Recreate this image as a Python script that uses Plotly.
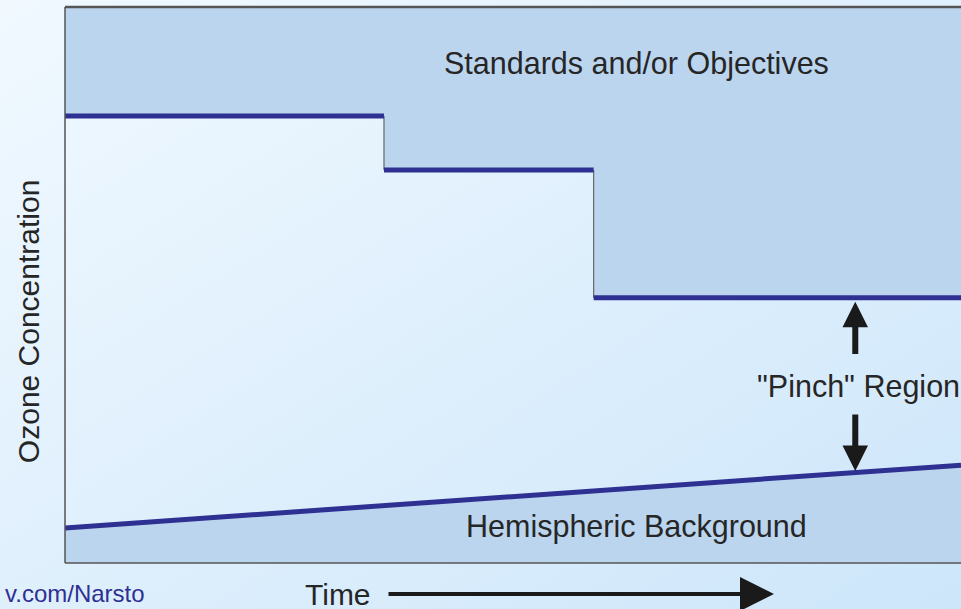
import base64

import plotly.graph_objects as go

# Step changes in the ozone standard (x = time, y = concentration, both 0-100)
std_breaks = [0, 35.6, 59.0, 100]
std_levels = [80.4, 70.7, 47.7]

# Hemispheric background trend
bg_x = [0, 100]
bg_y = [6.3, 17.6]

# "Pinch" arrows position
pinch_x = 88.2

LINE_BLUE = "#2e3192"
FILL_BLUE = "#bcd5ee"
TEXT = "#262626"
FONT = "Liberation Sans, Arial, sans-serif"

# diagonal light-blue gradient used as the page background
svg = (
    '<svg xmlns="http://www.w3.org/2000/svg" width="961" height="609" preserveAspectRatio="none">'
    '<defs><linearGradient id="g" x1="0" y1="0" x2="1" y2="1">'
    '<stop offset="0" stop-color="#f1f9ff"/><stop offset="1" stop-color="#cde6fa"/>'
    '</linearGradient></defs><rect width="961" height="609" fill="url(#g)"/></svg>'
)
bg_src = "data:image/svg+xml;base64," + base64.b64encode(svg.encode()).decode()

fig = go.Figure()

# filled area above the standard
poly_x, poly_y = [], []
for i, lvl in enumerate(std_levels):
    poly_x += [std_breaks[i], std_breaks[i + 1]]
    poly_y += [lvl, lvl]
poly_x += [std_breaks[-1], std_breaks[0]]
poly_y += [100, 100]
fig.add_trace(
    go.Scatter(x=poly_x, y=poly_y, fill="toself", fillcolor=FILL_BLUE,
               line=dict(width=0), mode="lines", hoverinfo="skip")
)

# filled area below the background line
fig.add_trace(
    go.Scatter(x=bg_x + bg_x[::-1], y=bg_y + [0, 0], fill="toself",
               fillcolor=FILL_BLUE, line=dict(width=0), mode="lines", hoverinfo="skip")
)

# thin grey risers between steps
for i in range(1, len(std_levels)):
    fig.add_trace(
        go.Scatter(x=[std_breaks[i], std_breaks[i]], y=[std_levels[i - 1], std_levels[i]],
                   mode="lines", line=dict(color="#666666", width=1.2), hoverinfo="skip")
    )

# thick standard segments
for i, lvl in enumerate(std_levels):
    fig.add_trace(
        go.Scatter(x=[std_breaks[i], std_breaks[i + 1]], y=[lvl, lvl], mode="lines",
                   line=dict(color=LINE_BLUE, width=5), hoverinfo="skip")
    )

fig.add_trace(
    go.Scatter(x=bg_x, y=bg_y, mode="lines", line=dict(color=LINE_BLUE, width=5),
               hoverinfo="skip")
)

bg_at_pinch = bg_y[0] + (bg_y[1] - bg_y[0]) * (pinch_x - bg_x[0]) / (bg_x[1] - bg_x[0])

# texts near the page edge get an invisible zero-length arrow so plotly
# does not push them back inside the page
edge = dict(showarrow=True, ax=0, ay=0, axref="pixel", ayref="pixel",
            arrowcolor="rgba(0,0,0,0)", arrowwidth=0.1)

annotations = [
    dict(text="Standards and/or Objectives", x=63.8, y=89.9, xref="x", yref="y",
         showarrow=False, font=dict(size=30.5, color=TEXT)),
    dict(text="Hemispheric Background", x=63.8, y=6.5, xref="x", yref="y",
         showarrow=False, font=dict(size=30.5, color=TEXT)),
    dict(text='"Pinch" Region', x=88.6, y=31.7, xref="x", yref="y",
         font=dict(size=30.5, color=TEXT), **edge),
    # up arrow to the standard
    dict(x=pinch_x, y=std_levels[-1] - 0.7, ax=pinch_x, ay=37.3, xref="x", yref="y",
         axref="x", ayref="y", text="", showarrow=True, arrowhead=2, arrowsize=0.85,
         arrowwidth=6, arrowcolor="#1a1a1a"),
    # down arrow to the background
    dict(x=pinch_x, y=bg_at_pinch + 0.3, ax=pinch_x, ay=27.0, xref="x", yref="y",
         axref="x", ayref="y", text="", showarrow=True, arrowhead=2, arrowsize=0.85,
         arrowwidth=6, arrowcolor="#1a1a1a"),
    dict(text="Ozone Concentration", x=-0.0413, y=0.435, xref="paper", yref="paper",
         textangle=-90, font=dict(size=30, color=TEXT), **edge),
    dict(text="Time", x=0.3047, y=-0.0558, xref="paper", yref="paper",
         font=dict(size=30, color=TEXT), **edge),
    dict(x=(774 - 65) / 896, y=-0.0558, ax=-(774 - 387), ay=0, xref="paper", yref="paper",
         axref="pixel", ayref="pixel", text="", showarrow=True, arrowhead=2,
         arrowsize=1.7, arrowwidth=4, arrowcolor="#1a1a1a"),
    dict(text="v.com/Narsto", x=-0.0725 + 75 / 896, y=-0.0548, xref="paper", yref="paper",
         font=dict(size=24, color=LINE_BLUE), **edge),
]

frame = dict(color="#555555", width=1.5)
shapes = [
    dict(type="line", xref="paper", yref="paper", x0=0, y0=0, x1=0, y1=1, line=frame),
    dict(type="line", xref="paper", yref="paper", x0=0, y0=1, x1=1, y1=1,
         line=dict(color="#555555", width=2.5)),
    dict(type="line", xref="paper", yref="paper", x0=0, y0=0, x1=1, y1=0, line=frame),
]

fig.update_layout(
    width=961,
    height=609,
    margin=dict(l=65, r=0, t=7, b=46),
    showlegend=False,
    paper_bgcolor="#e4f2fd",
    plot_bgcolor="rgba(0,0,0,0)",
    font=dict(family=FONT, color=TEXT),
    xaxis=dict(range=[0, 100], visible=False, fixedrange=True),
    yaxis=dict(range=[0, 100], visible=False, fixedrange=True),
    annotations=annotations,
    shapes=shapes,
    images=[dict(source=bg_src, xref="paper", yref="paper", x=-65 / 896, y=1 + 7 / 556,
                 sizex=961 / 896, sizey=609 / 556, sizing="stretch", layer="below",
                 xanchor="left", yanchor="top")],
)

fig.write_html(
    "out.html",
    config={"displayModeBar": False},
    post_script="document.body.style.margin='0';document.body.style.overflow='hidden';",
)
